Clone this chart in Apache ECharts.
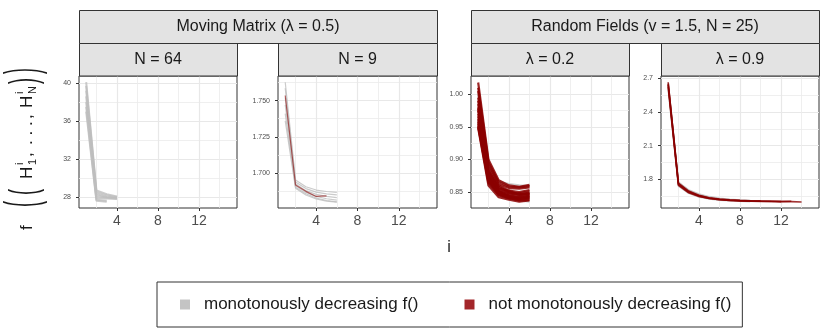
<!DOCTYPE html>
<html>
<head>
<meta charset="utf-8">
<script src="https://cdn.jsdelivr.net/npm/echarts@6/dist/echarts.min.js"></script>
<style>
html, body { margin: 0; padding: 0; background: #fff; }
#main { width: 830px; height: 332px; }
</style>
</head>
<body>
<div id="main"></div>
<script>
// position i along every trajectory
var stepIndex = [1, 2, 3, 4, 5, 6, 7, 8, 9, 10, 11, 12, 13, 14];

// Moving Matrix, N = 64 (all monotone)
var mmN64Mono = [
    [40.1, 28.7, 28.3, 28.05],
    [39.7, 28.5, 28.15, 27.98],
    [39.2, 28.3, 28.0, 27.92],
    [38.6, 28.1, 27.95, 27.85],
    [38.0, 27.9, 27.85, 27.78],
    [37.5, 27.7, 27.6],
    [37.0, 27.6, 27.5]
];
// Moving Matrix, N = 9
var mmN9Mono = [
    [1.7627, 1.6952, 1.6905, 1.6882, 1.6872, 1.6866],
    [1.7585, 1.6938, 1.6892, 1.6868, 1.6856, 1.6849],
    [1.7520, 1.6925, 1.6878, 1.6852, 1.6838, 1.6830],
    [1.7470, 1.6912, 1.6866, 1.6838, 1.6822, 1.6812],
    [1.7410, 1.6902, 1.6856, 1.6826, 1.6810, 1.6800],
    [1.7360, 1.6895, 1.6848, 1.6820, 1.6806, 1.6798]
];
var mmN9NotMono = [
    [1.7535, 1.6917, 1.6873, 1.6838, 1.6842]
];
// Random Fields, lambda = 0.2
var rfL02Mono = [
    [1.000, 0.890, 0.866, 0.862, 0.860, 0.859],
    [0.960, 0.862, 0.846, 0.840, 0.837, 0.835]
];
var rfL02NotMono = [
    [1.018, 0.900, 0.868, 0.860, 0.858, 0.861],
    [1.010, 0.896, 0.865, 0.858, 0.857, 0.859],
    [1.005, 0.893, 0.862, 0.856, 0.855, 0.857],
    [0.995, 0.888, 0.860, 0.852, 0.850, 0.853],
    [0.990, 0.882, 0.858, 0.850, 0.846, 0.848],
    [0.985, 0.884, 0.856, 0.849, 0.848, 0.851],
    [0.978, 0.880, 0.855, 0.852, 0.846, 0.849],
    [0.975, 0.875, 0.851, 0.843, 0.839, 0.842],
    [0.970, 0.877, 0.852, 0.846, 0.848, 0.846],
    [0.966, 0.874, 0.853, 0.848, 0.845, 0.847],
    [0.962, 0.872, 0.850, 0.844, 0.843, 0.845],
    [0.958, 0.870, 0.849, 0.845, 0.842, 0.844],
    [0.955, 0.868, 0.847, 0.842, 0.841, 0.843],
    [0.952, 0.866, 0.846, 0.841, 0.840, 0.841],
    [0.950, 0.864, 0.845, 0.840, 0.838, 0.840],
    [0.948, 0.860, 0.842, 0.838, 0.835, 0.837],
    [0.980, 0.870, 0.848, 0.841, 0.837, 0.838]
];
// Random Fields, lambda = 0.9
var rfL09Mono = [
    [2.660, 1.775, 1.700, 1.662, 1.640, 1.627, 1.619, 1.613, 1.609, 1.606, 1.604],
    [2.600, 1.740, 1.675, 1.642, 1.624, 1.614, 1.608, 1.604, 1.601],
    [2.630, 1.770, 1.705, 1.668, 1.645, 1.630, 1.621, 1.615, 1.611]
];
var rfL09NotMono = [
    [2.664, 1.760, 1.690, 1.654, 1.633, 1.622, 1.615, 1.610, 1.606, 1.604, 1.602, 1.600, 1.601, 1.598],
    [2.640, 1.752, 1.684, 1.650, 1.630, 1.619, 1.612, 1.608, 1.605, 1.603, 1.604, 1.601],
    [2.620, 1.745, 1.680, 1.646, 1.628, 1.617, 1.611, 1.607, 1.604, 1.605],
    [2.650, 1.765, 1.695, 1.658, 1.636, 1.624, 1.617, 1.612, 1.609, 1.606, 1.604, 1.603, 1.604]
];

// tick labels / grid lines
var xMajorTicks = [4, 8, 12];
var xMinorTicks = [2, 6, 10, 14];
var mmN64Ticks = [28, 32, 36, 40];
var mmN64Minor = [30, 34, 38];
var mmN9Ticks = [1.700, 1.725, 1.750];
var mmN9Minor = [1.6875, 1.7125, 1.7375, 1.7625];
var rfL02Ticks = [0.85, 0.90, 0.95, 1.00];
var rfL02Minor = [0.875, 0.925, 0.975];
var rfL09Ticks = [1.8, 2.1, 2.4, 2.7];
var rfL09Minor = [1.65, 1.95, 2.25, 2.55];

var groupTitles = ['Moving Matrix (λ = 0.5)', 'Random Fields (v = 1.5, N = 25)'];
var panelTitles = ['N = 64', 'N = 9', 'λ = 0.2', 'λ = 0.9'];
var legendNames = ['monotonously decreasing f()', 'not monotonously decreasing f()'];

(function (w) {
    var font = '"Liberation Sans", Arial, sans-serif';
    var ink = '#1a1a1a';
    var PANEL_TOP = 76, PANEL_H = 132;

    var panels = [
        { left: 79, width: 158, yMin: 26.84, yMax: 40.74, ticks: mmN64Ticks, minor: mmN64Minor, digits: 0, mono: mmN64Mono, notMono: [], lw: 2, redOp: 0.6 },
        { left: 278, width: 159, yMin: 1.6758, yMax: 1.767, ticks: mmN9Ticks, minor: mmN9Minor, digits: 3, mono: mmN9Mono, notMono: mmN9NotMono, lw: 1.2, redOp: 0.6 },
        { left: 471, width: 158, yMin: 0.8254, yMax: 1.028, ticks: rfL02Ticks, minor: rfL02Minor, digits: 2, mono: rfL02Mono, notMono: rfL02NotMono, lw: 2.2, redOp: 0.85 },
        { left: 661, width: 158, yMin: 1.544, yMax: 2.72, ticks: rfL09Ticks, minor: rfL09Minor, digits: 1, mono: rfL09Mono, notMono: rfL09NotMono, lw: 1.6, redOp: 0.8 }
    ];

    function toPoints(values) {
        return values.map(function (v, k) { return [stepIndex[k], v]; });
    }

    var option = {
        animation: false,
        backgroundColor: '#ffffff',
        textStyle: { fontFamily: font },
        grid: [], xAxis: [], yAxis: [], series: [], graphic: []
    };

    panels.forEach(function (p, k) {
        option.grid.push({
            left: p.left, top: PANEL_TOP, width: p.width, height: PANEL_H,
            show: true, backgroundColor: '#ffffff', borderColor: '#333333', borderWidth: 1,
            outerBoundsMode: 'none'
        });
        // visible axes + major grid
        option.xAxis.push({
            type: 'value', gridIndex: k, min: 0.3, max: 15.7,
            axisLine: { show: false },
            axisTick: { show: true, length: 3, lineStyle: { color: '#333333' }, customValues: xMajorTicks },
            axisLabel: { customValues: xMajorTicks, fontSize: 14, color: '#4d4d4d', margin: 6, fontFamily: font },
            splitLine: { show: true, lineStyle: { color: '#e8e8e8', width: 1.2 } }
        });
        // minor grid only
        option.xAxis.push({
            type: 'value', gridIndex: k, min: 0.3, max: 15.7, position: 'bottom',
            axisLine: { show: false },
            axisTick: { show: false, customValues: xMinorTicks },
            axisLabel: { show: false, customValues: xMinorTicks },
            splitLine: { show: true, lineStyle: { color: '#ebebeb', width: 0.8 } }
        });
        option.yAxis.push({
            type: 'value', gridIndex: k, min: p.yMin, max: p.yMax,
            axisLine: { show: false },
            axisTick: { show: true, length: 3, lineStyle: { color: '#333333' }, customValues: p.ticks },
            axisLabel: {
                customValues: p.ticks, fontSize: 7, color: '#4d4d4d', margin: 8, fontFamily: font,
                formatter: (function (d) { return function (v) { return Number(v).toFixed(d); }; })(p.digits)
            },
            splitLine: { show: true, lineStyle: { color: '#e8e8e8', width: 1.2 } }
        });
        option.yAxis.push({
            type: 'value', gridIndex: k, min: p.yMin, max: p.yMax, position: 'left',
            axisLine: { show: false },
            axisTick: { show: false, customValues: p.minor },
            axisLabel: { show: false, customValues: p.minor },
            splitLine: { show: true, lineStyle: { color: '#ebebeb', width: 0.8 } }
        });

        p.mono.forEach(function (vals) {
            option.series.push({
                type: 'line', name: legendNames[0], xAxisIndex: 2 * k, yAxisIndex: 2 * k,
                data: toPoints(vals), symbol: 'none', silent: true, z: 3,
                itemStyle: { color: '#bebebe' },
                lineStyle: { color: '#bebebe', width: p.lw, opacity: 0.8 }
            });
        });
        p.notMono.forEach(function (vals) {
            option.series.push({
                type: 'line', name: legendNames[1], xAxisIndex: 2 * k, yAxisIndex: 2 * k,
                data: toPoints(vals), symbol: 'none', silent: true, z: 4,
                itemStyle: { color: '#8b0000' },
                lineStyle: { color: '#8b0000', width: p.lw, opacity: p.redOp }
            });
        });

        // panel strip
        option.graphic.push({
            type: 'rect', z: 10,
            shape: { x: p.left + 0.5, y: 43.5, width: p.width, height: 32.5 },
            style: { fill: '#e3e3e3', stroke: '#333333', lineWidth: 1 }
        }, {
            type: 'text', z: 11, x: p.left + p.width / 2, y: 60,
            style: { text: panelTitles[k], font: '16px ' + font, fill: ink, align: 'center', verticalAlign: 'middle' }
        });
    });

    // group strips
    [[79, 358], [471, 348]].forEach(function (g, k) {
        option.graphic.push({
            type: 'rect', z: 10,
            shape: { x: g[0] + 0.5, y: 10.5, width: g[1], height: 33 },
            style: { fill: '#e3e3e3', stroke: '#333333', lineWidth: 1 }
        }, {
            type: 'text', z: 11, x: g[0] + g[1] / 2, y: 27,
            style: { text: groupTitles[k], font: '16px ' + font, fill: ink, align: 'center', verticalAlign: 'middle' }
        });
    });

    // x axis title
    option.graphic.push({
        type: 'text', x: 449, y: 248,
        style: { text: 'i', font: '16px ' + font, fill: ink, align: 'center', verticalAlign: 'middle' }
    });

    // y axis title: f((H_1^i, ..., H_N^i)), read bottom to top
    function part(text, lx, ly, size, stretch) {
        return {
            type: 'text', x: lx, y: ly, scaleY: stretch || 1,
            style: { text: text, font: size + 'px ' + font, fill: ink, align: 'left', verticalAlign: 'middle' }
        };
    }
    option.graphic.push({
        type: 'group', x: 27, y: 231, rotation: Math.PI / 2,
        children: [
            part('f', 1, 0, 17),
            part('(', 24, -3, 18, 2.6),
            part('(', 36, -2, 18, 2.15),
            part('H', 52, 0, 17),
            part('i', 66, -7, 11),
            part('1', 66, 6, 11),
            part(',', 74, 0, 17),
            part('. . .', 86, 0, 17),
            part(',', 112, 0, 17),
            part('H', 123, 0, 17),
            part('i', 137, -7, 11),
            part('N', 137, 6, 11),
            part(')', 147, -2, 18, 2.15),
            part(')', 157, -3, 18, 2.6)
        ]
    });

    option.legend = {
        left: 157, top: 282,
        padding: [14, 11, 14, 23],
        itemGap: 46, itemWidth: 10, itemHeight: 10, icon: 'rect',
        borderColor: '#333333', borderWidth: 1,
        selectedMode: false,
        textStyle: { fontSize: 17, color: ink, fontFamily: font, padding: [0, 0, 0, 9] },
        data: [
            { name: legendNames[0], itemStyle: { color: '#c4c4c4' } },
            { name: legendNames[1], itemStyle: { color: '#a3262a' } }
        ]
    };

    var chart = echarts.init(document.getElementById('main'));
    chart.setOption(option);
})(window);
</script>
</body>
</html>
